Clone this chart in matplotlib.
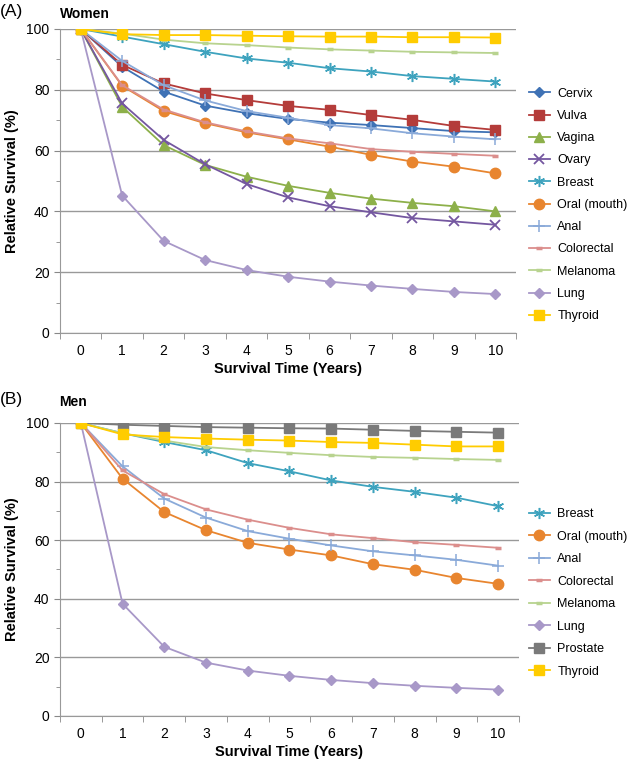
import matplotlib
matplotlib.use("Agg")
import matplotlib.pyplot as plt
from matplotlib.ticker import MultipleLocator, FixedLocator

plt.rcParams['font.family'] = ['Liberation Sans', 'DejaVu Sans']

years = list(range(0, 11))

# Women
w_cervix = [100, 87.6, 79.4, 74.8, 72.3, 70.4, 69.2, 68.4, 67.4, 66.4, 66.0]
w_vulva = [100, 88.2, 82.1, 78.8, 76.6, 74.7, 73.4, 71.7, 70.1, 68.1, 66.8]
w_vagina = [100, 74.4, 61.8, 55.3, 51.4, 48.4, 46.1, 44.2, 42.8, 41.7, 40.0]
w_ovary = [100, 75.5, 63.5, 55.5, 49.0, 44.6, 41.7, 39.7, 37.8, 36.7, 35.6]
w_breast = [100, 97.5, 95.0, 92.5, 90.3, 88.9, 87.1, 86.0, 84.5, 83.6, 82.7]
w_oral = [100, 81.3, 73.0, 69.0, 66.0, 63.7, 61.3, 58.6, 56.4, 54.7, 52.5]
w_anal = [100, 89.5, 81.5, 76.5, 73.0, 70.8, 68.4, 67.3, 65.7, 64.6, 63.7]
w_colorectal = [100, 81.5, 73.5, 69.3, 66.3, 64.0, 62.4, 60.5, 59.6, 58.9, 58.3]
w_melanoma = [100, 98.5, 96.5, 95.3, 94.7, 93.9, 93.3, 92.9, 92.5, 92.3, 92.1]
w_lung = [100, 45.2, 30.3, 24.0, 20.7, 18.5, 16.9, 15.6, 14.5, 13.5, 12.8]
w_thyroid = [100, 98.3, 98.0, 98.0, 97.8, 97.6, 97.5, 97.5, 97.3, 97.3, 97.2]

# Men
m_breast = [100, 96.5, 93.5, 90.7, 86.3, 83.5, 80.4, 78.2, 76.5, 74.5, 71.6]
m_oral = [100, 81.0, 69.6, 63.4, 59.1, 56.8, 54.8, 51.8, 49.9, 47.1, 45.1]
m_anal = [100, 85.2, 74.2, 67.7, 63.1, 60.5, 58.2, 56.2, 54.8, 53.3, 51.3]
m_colorectal = [100, 83.8, 75.7, 70.5, 67.0, 64.2, 62.0, 60.7, 59.3, 58.4, 57.4]
m_melanoma = [100, 96.5, 94.0, 91.8, 90.7, 89.8, 89.0, 88.4, 88.1, 87.7, 87.4]
m_lung = [100, 38.3, 23.6, 18.2, 15.5, 13.7, 12.3, 11.2, 10.3, 9.6, 9.0]
m_prostate = [100, 99.4, 99.0, 98.6, 98.4, 98.2, 98.1, 97.7, 97.3, 97.0, 96.7]
m_thyroid = [100, 96.1, 95.2, 94.7, 94.3, 94.0, 93.5, 93.2, 92.6, 92.0, 92.0]

# name -> (color, marker, markersize, mew)
styles = {
    'Cervix': ('#3F72B5', 'D', 5.5, 1),
    'Vulva': ('#B43C3A', 's', 7, 1),
    'Vagina': ('#8DB04A', '^', 7, 1),
    'Ovary': ('#7457A0', 'x', 7, 1.3),
    'Breast': ('#3EA3BE', '*', 0, 1),
    'Oral (mouth)': ('#E8852F', 'o', 7.5, 1),
    'Anal': ('#8AAAD9', '+', 8, 1.1),
    'Colorectal': ('#DB8E8C', '_', 5, 2.5),
    'Melanoma': ('#B8D38F', '_', 5, 2.5),
    'Lung': ('#A898C8', 'D', 5.5, 1),
    'Prostate': ('#7A7A7A', 's', 7, 1),
    'Thyroid': ('#FFCC00', 's', 7, 1),
}

women = [('Cervix', w_cervix), ('Vulva', w_vulva), ('Vagina', w_vagina),
         ('Ovary', w_ovary), ('Breast', w_breast), ('Oral (mouth)', w_oral),
         ('Anal', w_anal), ('Colorectal', w_colorectal), ('Melanoma', w_melanoma),
         ('Lung', w_lung), ('Thyroid', w_thyroid)]
men = [('Breast', m_breast), ('Oral (mouth)', m_oral), ('Anal', m_anal),
       ('Colorectal', m_colorectal), ('Melanoma', m_melanoma), ('Lung', m_lung),
       ('Prostate', m_prostate), ('Thyroid', m_thyroid)]


def draw_panel(ax, series):
    handles = []
    for name, vals in series:
        color, marker, ms, mew = styles[name]
        if marker == '*':
            # asterisk marker with six arms
            line, = ax.plot(years, vals, color=color, lw=1.3, marker=(6, 2, 0),
                            ms=8, mew=1.1, zorder=3)
        else:
            line, = ax.plot(years, vals, color=color, lw=1.3, marker=marker,
                            ms=ms, mew=mew, mec=color, mfc=color, zorder=3)
        handles.append(line)
    ax.set_xlim(-0.5, 10.5)
    ax.set_ylim(0, 100)
    ax.yaxis.set_major_locator(MultipleLocator(20))
    ax.yaxis.set_minor_locator(MultipleLocator(10))
    ax.xaxis.set_major_locator(FixedLocator(years))
    ax.xaxis.set_minor_locator(FixedLocator([y - 0.5 for y in years] + [10.5]))
    ax.tick_params(axis='x', which='major', length=0, pad=8, labelsize=10)
    ax.tick_params(axis='x', which='minor', length=4, color='#888888', direction='out')
    ax.tick_params(axis='y', which='both', color='#888888', direction='out', labelsize=10)
    ax.tick_params(axis='y', which='major', length=4)
    ax.tick_params(axis='y', which='minor', length=3)
    ax.grid(axis='y', which='major', color='#999999', lw=1)
    ax.set_axisbelow(True)
    for s in ['top', 'right']:
        ax.spines[s].set_visible(False)
    for s in ['left', 'bottom']:
        ax.spines[s].set_color('#999999')
    ax.set_xlabel('Survival Time (Years)', fontsize=10.5, fontweight='bold', labelpad=3)
    ax.set_ylabel('Relative Survival (%)', fontsize=10.5, fontweight='bold', labelpad=5)
    return handles


fig = plt.figure(figsize=(6.34, 7.59), dpi=100)
axA = fig.add_axes([0.0946, 0.5613, 0.7195, 0.4005])
axB = fig.add_axes([0.0946, 0.0567, 0.7240, 0.3860])

hA = draw_panel(axA, women)
hB = draw_panel(axB, men)

fig.legend(hA, [n for n, _ in women], loc='upper left', bbox_to_anchor=(0.826, 0.891),
           frameon=False, fontsize=9, labelspacing=0.82, handlelength=1.7,
           handletextpad=0.6, borderaxespad=0)
fig.legend(hB, [n for n, _ in men], loc='upper left', bbox_to_anchor=(0.826, 0.337),
           frameon=False, fontsize=9, labelspacing=0.84, handlelength=1.7,
           handletextpad=0.6, borderaxespad=0)

fig.text(0.0, 0.995, '(A)', fontsize=12.5, va='top', ha='left')
fig.text(0.094, 0.991, 'Women', fontsize=10, fontweight='bold', va='top', ha='left')
fig.text(0.0, 0.483, '(B)', fontsize=12.5, va='top', ha='left')
fig.text(0.094, 0.479, 'Men', fontsize=10, fontweight='bold', va='top', ha='left')

fig.savefig('out.png', dpi=100)
